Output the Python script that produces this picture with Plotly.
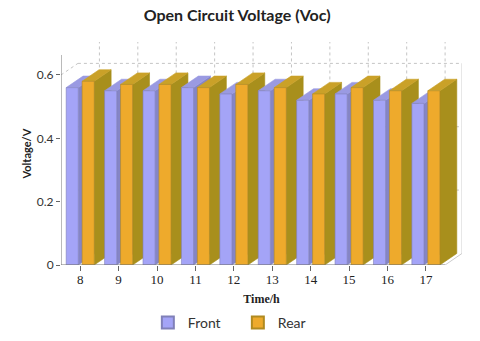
import plotly.graph_objects as go

# ---- data ----
hours = [8, 9, 10, 11, 12, 13, 14, 15, 16, 17]
front = [0.56, 0.55, 0.55, 0.56, 0.54, 0.55, 0.52, 0.54, 0.52, 0.51]
rear = [0.58, 0.57, 0.57, 0.56, 0.57, 0.56, 0.54, 0.56, 0.55, 0.55]
y_ticks = [0, 0.2, 0.4, 0.6]
y_tick_text = ["0", "0.2", "0.4", "0.6"]

# ---- styling / projection ----
DX = 0.44      # depth shift in x units
DY = 0.0365    # depth shift in y units
BW = 0.315     # bar width
GAP = 0.05
Y_TOP = 0.704
X_LEFT = 7.5
X_RIGHT = 17.94
AXIS_TOP = 0.663

front_cols = dict(face="#a4a4f7", top="#9a9ae2", side="#8585c6", edge="#8080b8")
rear_cols = dict(face="#eeaa2c", top="#caa128", side="#a88f1c", edge="#b08a20")

fig = go.Figure()

grid = dict(color="#c4c4c4", width=1, dash="dot")

def add_line(xs, ys, line):
    fig.add_trace(go.Scatter(x=xs, y=ys, mode="lines", line=line,
                             showlegend=False, hoverinfo="skip", cliponaxis=False))

# back-plane gridlines
for v in y_ticks[1:]:
    add_line([X_LEFT + DX, X_RIGHT], [v + DY, v + DY], grid)
add_line([X_LEFT, X_LEFT + DX], [0.6, 0.6 + DY], grid)
for h in hours:
    add_line([h + 0.5, h + 0.5], [DY, Y_TOP], grid)
# back right edge & floor edge
add_line([X_RIGHT - 0.005, X_RIGHT - 0.005], [DY, 0.6 + DY], dict(color="#dddddd", width=1))
add_line([hours[-1] + 0.5, hours[-1] + 0.5 + DX], [0, DY], dict(color="#cccccc", width=1))


def poly(pts, fill, edge):
    xs = [p[0] for p in pts] + [pts[0][0]]
    ys = [p[1] for p in pts] + [pts[0][1]]
    fig.add_trace(go.Scatter(x=xs, y=ys, mode="lines", fill="toself",
                             fillcolor=fill, line=dict(color=edge, width=0.6),
                             showlegend=False, hoverinfo="skip"))


def bar3d(xl, h, cols):
    xr = xl + BW
    poly([(xr, 0), (xr + DX, DY), (xr + DX, h + DY), (xr, h)], cols["side"], cols["side"])
    poly([(xl, h), (xr, h), (xr + DX, h + DY), (xl + DX, h + DY)], cols["top"], cols["top"])
    poly([(xl, 0), (xr, 0), (xr, h), (xl, h)], cols["face"], cols["edge"])


for c, f, r in zip(hours, front, rear):
    bar3d(c - GAP - BW, f, front_cols)
    bar3d(c + GAP, r, rear_cols)

# front axes lines
add_line([X_LEFT, X_LEFT], [0, AXIS_TOP], dict(color="#777777", width=1))
add_line([X_LEFT, hours[-1] + 0.5], [0, 0], dict(color="#777777", width=1))

# legend entries
fig.add_trace(go.Scatter(x=[None], y=[None], mode="markers", name="Front",
                         marker=dict(symbol="square", size=13, color="#a4a4f7",
                                     line=dict(color="#8080b8", width=1))))
fig.add_trace(go.Scatter(x=[None], y=[None], mode="markers", name="Rear",
                         marker=dict(symbol="square", size=13, color="#eeaa2c",
                                     line=dict(color="#b08a20", width=1))))

fig.update_layout(
    width=480, height=341,
    margin=dict(l=61, r=18, t=42, b=76, autoexpand=False),
    paper_bgcolor="white", plot_bgcolor="white",
    title=dict(text="<b>Open Circuit Voltage (Voc)</b>", x=0.494, xanchor="center",
               y=0.955, yanchor="middle", automargin=False,
               font=dict(family="Lato", size=16, color="#222222")),
    xaxis=dict(range=[X_LEFT, X_RIGHT], tickvals=hours, ticktext=[str(h) for h in hours],
               showgrid=False, zeroline=False, showline=False, automargin=False,
               ticks="outside", ticklen=5, tickcolor="#666666", ticklabelstandoff=-3,
               tickfont=dict(family="Liberation Serif", size=13, color="#222222"),
               title=dict(text="<b>Time/h</b>", standoff=9,
                          font=dict(family="Liberation Serif", size=12, color="#222222"))),
    yaxis=dict(range=[0, Y_TOP], tickvals=y_ticks, ticktext=y_tick_text,
               showgrid=False, zeroline=False, showline=False, automargin=False,
               ticks="outside", ticklen=4, tickcolor="#666666",
               tickfont=dict(family="Lato", size=12, color="#333333"),
               title=dict(text="<b>Voltage/V</b>", standoff=2,
                          font=dict(family="Lato", size=11, color="#222222"))),
    legend=dict(orientation="h", x=0.441, xanchor="center", y=-0.26, yanchor="middle",
                font=dict(family="Lato", size=14, color="#333333"),
                itemsizing="constant", tracegroupgap=0, entrywidth=45),
    showlegend=True,
)

# remove the page's default body margin so the figure fills the window exactly
fig.write_html("out.html", config={"displayModeBar": False},
               post_script="document.body.style.margin='0';")
